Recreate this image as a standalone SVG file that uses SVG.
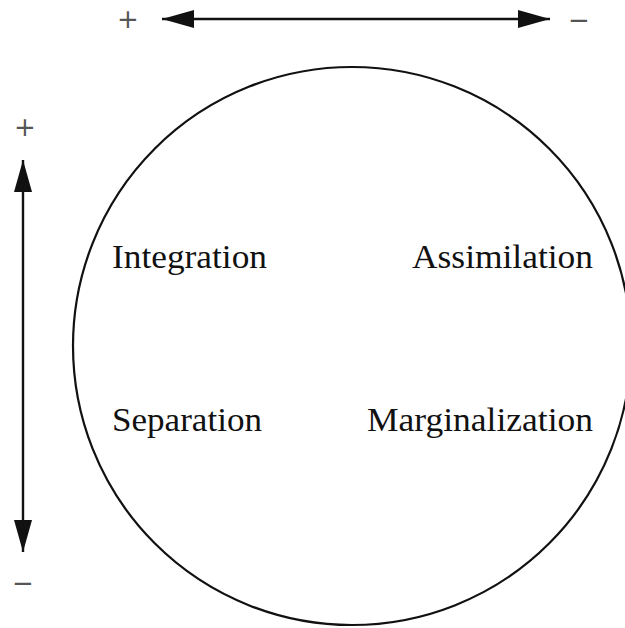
<svg xmlns="http://www.w3.org/2000/svg" width="625" height="628" viewBox="0 0 625 628">
<defs>
<style>
.lbl{font-family:"Liberation Serif","Times New Roman",serif;font-size:33px;fill:#111}
.sign{font-family:"DejaVu Sans","Liberation Sans",sans-serif;font-size:26px;fill:#555;text-anchor:middle}
.ax{stroke:#111;stroke-width:2.4;fill:none}
</style>
<marker id="ah" viewBox="0 0 32 18" refX="32" refY="9" markerWidth="32" markerHeight="18" markerUnits="userSpaceOnUse" orient="auto-start-reverse">
<path d="M0,0 L32,9 L0,18 Z" fill="#111"/>
</marker>
</defs>
<rect width="625" height="628" fill="#fff"/>
<g id="connectors">
<line class="ax" x1="162" y1="19" x2="550" y2="19" marker-start="url(#ah)" marker-end="url(#ah)"/>
<line class="ax" x1="23" y1="160" x2="23" y2="552" marker-start="url(#ah)" marker-end="url(#ah)"/>
</g>
<g id="signs">
<text class="sign" x="128" y="28">+</text>
<text class="sign" x="579" y="29">−</text>
<text class="sign" x="25" y="136">+</text>
<text class="sign" x="23" y="592">−</text>
</g>
<g id="circle">
<circle cx="352" cy="346" r="279" fill="none" stroke="#111" stroke-width="2.2"/>
</g>
<g id="integration"><text class="lbl" x="112" y="268" textLength="155" lengthAdjust="spacingAndGlyphs">Integration</text></g>
<g id="assimilation"><text class="lbl" x="412" y="268" textLength="181" lengthAdjust="spacingAndGlyphs">Assimilation</text></g>
<g id="separation"><text class="lbl" x="112" y="431" textLength="150" lengthAdjust="spacingAndGlyphs">Separation</text></g>
<g id="marginalization"><text class="lbl" x="367" y="431" textLength="226" lengthAdjust="spacingAndGlyphs">Marginalization</text></g>
</svg>
